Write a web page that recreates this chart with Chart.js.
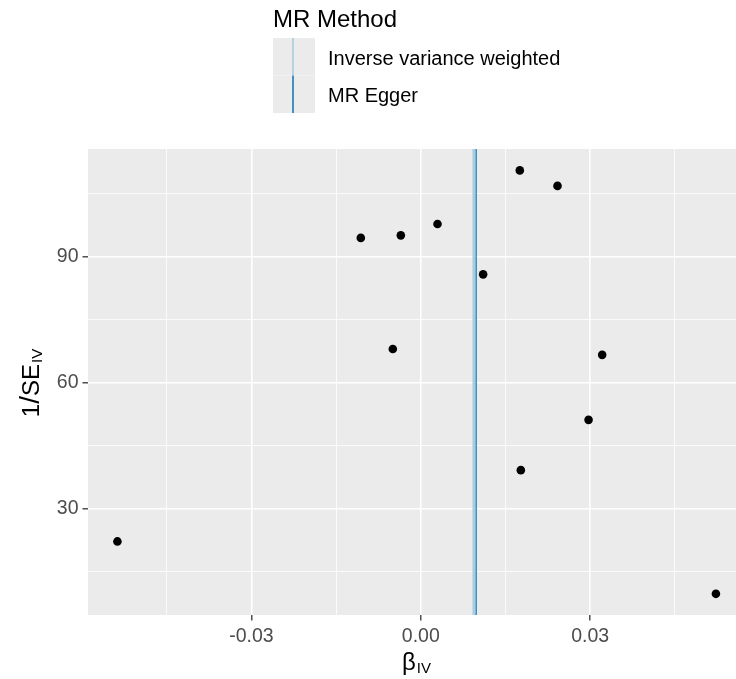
<!DOCTYPE html>
<html>
<head>
<meta charset="utf-8">
<script src="https://cdn.jsdelivr.net/npm/chart.js@4.4.1/dist/chart.umd.min.js"></script>
<style>
  html,body{margin:0;padding:0;background:#fff;}
  #wrap{width:736px;height:679px;}
</style>
</head>
<body>
<div id="wrap"><canvas id="funnel" width="736" height="679"></canvas></div>
<script>
/* ---------- data ---------- */
const betaIV = [-0.05375, -0.01063, -0.00354, 0.00296, -0.00496, 0.01104, 0.01754, 0.01772, 0.02422, 0.02972, 0.03213, 0.05228];
const invSE  = [22.1, 94.5, 95.1, 97.8, 68.0, 85.8, 110.6, 39.1, 106.9, 51.1, 66.6, 9.6];

const methods     = ['Inverse variance weighted', 'MR Egger'];
const methodBeta  = [0.0094, 0.0098];
const methodColor = ['#A6CEE3', '#1F78B4'];
const methodWidth = [2.8, 1.4];

const xTicks = [-0.045, -0.03, -0.015, 0, 0.015, 0.03, 0.045];
const xMajor = [-0.03, 0, 0.03];
const yTicks = [15, 30, 45, 60, 75, 90, 105];
const yMajor = [30, 60, 90];

const xRange = [-0.05896, 0.05584];
const yRange = [4.55, 115.7];

const FONT = '"Liberation Sans", Arial, Helvetica, sans-serif';

/* helper */
const isMajor = (list, v) => list.some(m => Math.abs(m - v) < 1e-9);

/* ---------- panel background + axis titles + legend ---------- */
const ggDecor = {
  id: 'ggDecor',
  beforeDraw(chart){
    const {ctx, chartArea:a} = chart;
    ctx.save();
    ctx.fillStyle = '#EBEBEB';
    ctx.fillRect(a.left, a.top, a.right - a.left, a.bottom - a.top);
    ctx.restore();
  },
  afterDraw(chart){
    const ctx = chart.ctx;
    ctx.save();
    ctx.fillStyle = '#000';
    ctx.textBaseline = 'alphabetic';

    // x title: beta with IV subscript
    ctx.font = `24px ${FONT}`;
    const wB = ctx.measureText('\u03B2').width;
    ctx.font = `15px ${FONT}`;
    const wS = ctx.measureText('IV').width;
    let x0 = 416.5 - (wB + 1 + wS) / 2;
    ctx.font = `24px ${FONT}`;
    ctx.fillText('\u03B2', x0, 670);
    ctx.font = `15px ${FONT}`;
    ctx.fillText('IV', x0 + wB + 1, 673);

    // y title: 1/SE with IV subscript, rotated
    ctx.save();
    ctx.translate(39, 383);
    ctx.rotate(-Math.PI / 2);
    ctx.font = `24px ${FONT}`;
    const w1 = ctx.measureText('1').width;
    ctx.font = `28px ${FONT}`;
    const wSl = ctx.measureText('/').width;
    ctx.font = `24px ${FONT}`;
    const wSE = ctx.measureText('SE').width;
    ctx.font = `15px ${FONT}`;
    const wIV = ctx.measureText('IV').width;
    let p = -(w1 + wSl + wSE + 1 + wIV) / 2;
    ctx.font = `24px ${FONT}`;
    ctx.fillText('1', p, 0); p += w1;
    ctx.font = `28px ${FONT}`;
    ctx.fillText('/', p, 0); p += wSl;
    ctx.font = `24px ${FONT}`;
    ctx.fillText('SE', p, 0); p += wSE + 1;
    ctx.font = `15px ${FONT}`;
    ctx.fillText('IV', p, 3);
    ctx.restore();

    // legend
    ctx.font = `24px ${FONT}`;
    ctx.fillText('MR Method', 273, 27);
    const keyX = 273, keyW = 42, keyH = 37.5, keyTop = 38;
    methods.forEach((m, i) => {
      const ky = keyTop + i * keyH;
      ctx.fillStyle = '#EBEBEB';
      ctx.fillRect(keyX, ky, keyW, keyH);
      ctx.strokeStyle = methodColor[i];
      ctx.lineWidth = 1.6;
      ctx.beginPath();
      ctx.moveTo(keyX + 20, ky);
      ctx.lineTo(keyX + 20, ky + keyH);
      ctx.stroke();
      ctx.fillStyle = '#000';
      ctx.font = `20px ${FONT}`;
      ctx.textBaseline = 'middle';
      ctx.fillText(m, 328, ky + keyH / 2 + 2.5);
      ctx.textBaseline = 'alphabetic';
    });
    ctx.restore();
  }
};

/* ---------- datasets ---------- */
const lineSets = methods.map((m, i) => ({
  type: 'line',
  label: m,
  data: [{x: methodBeta[i], y: yRange[0]}, {x: methodBeta[i], y: yRange[1]}],
  borderColor: methodColor[i],
  borderWidth: methodWidth[i],
  pointRadius: 0,
  fill: false,
  order: 0
}));

const pointSet = {
  type: 'scatter',
  label: 'SNP',
  data: betaIV.map((b, i) => ({x: b, y: invSE[i]})),
  backgroundColor: '#000',
  borderWidth: 0,
  pointRadius: 4.3,
  order: 1
};

function axisCommon(ticks, majors, fmt, size){
  return {
    type: 'linear',
    border: {display: false},
    grid: {
      color: '#FFFFFF',
      lineWidth: c => isMajor(majors, c.tick.value) ? 1.6 : 0.8,
      drawTicks: true,
      tickLength: 5.5,
      tickWidth: 1.3,
      tickColor: c => isMajor(majors, c.tick.value) ? '#333333' : 'rgba(0,0,0,0)'
    },
    ticks: {
      autoSkip: false,
      maxRotation: 0,
      color: '#4D4D4D',
      font: {family: FONT, size: 19.5},
      callback: v => isMajor(majors, v) ? fmt(v) : ''
    },
    afterBuildTicks: s => { s.ticks = ticks.map(v => ({value: v})); },
    afterFit: s => {
      if(s.isHorizontal()) s.height = size; else s.width = size;
      // no extra room for edge labels: the panel runs to the canvas edge
      s.paddingLeft = 0; s.paddingRight = 0; s.paddingTop = 0; s.paddingBottom = 0;
    }
  };
}

const xScale = axisCommon(xTicks, xMajor, v => v.toFixed(2), 64);
xScale.min = xRange[0]; xScale.max = xRange[1];
xScale.ticks.padding = 4;
const yScale = axisCommon(yTicks, yMajor, v => String(Math.round(v)), 88);
yScale.min = yRange[0]; yScale.max = yRange[1];
yScale.ticks.padding = 4;

new Chart(document.getElementById('funnel'), {
  type: 'scatter',
  data: {datasets: [...lineSets, pointSet]},
  options: {
    responsive: false,
    animation: false,
    devicePixelRatio: 1,
    layout: {autoPadding: false, padding: {top: 149, left: 0, right: 0, bottom: 0}},
    plugins: {legend: {display: false}, tooltip: {enabled: false}},
    scales: {x: xScale, y: yScale}
  },
  plugins: [ggDecor]
});
</script>
</body>
</html>
